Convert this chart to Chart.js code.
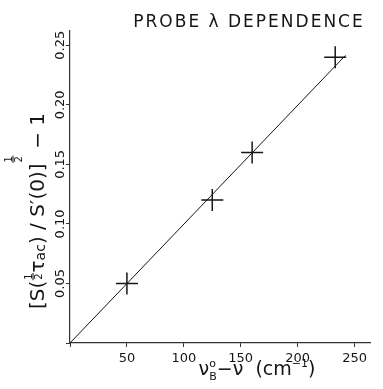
<!DOCTYPE html>
<html>
<head>
<meta charset="utf-8">
<script src="https://cdn.jsdelivr.net/npm/chart.js@4"></script>
<style>
  html, body { margin: 0; padding: 0; background: #fff; }
  #wrap { width: 383px; height: 389px; position: relative; }
</style>
</head>
<body>
<div id="wrap"><canvas id="myChart"></canvas></div>
<script>
// measured points: x = nu_B0 - nu (cm-1), y = [S(tau/2)/S'(0)]^1/2 - 1
const shiftValues = [50, 125, 160, 233];
const ratioValues = [0.050, 0.120, 0.160, 0.240];
// straight line through the origin
const fitX = [0, 242];
const fitY = [0, 0.2415];
// tick labels
const xTicks = [50, 100, 150, 200, 250];
const yTicks = [0.05, 0.10, 0.15, 0.20, 0.25];
const titleText = 'PROBE λ DEPENDENCE';

const FONT = "'DejaVu Sans', sans-serif";
const INK = '#151515';
const W = 'normal';

function layoutRich(ctx, pieces) {
  let x = 0, prevStart = 0, prevW = 0;
  for (const p of pieces) {
    ctx.font = `${W} ${p.size}px ${FONT}`;
    const w = p.frac ? ctx.measureText('2').width + 2 : ctx.measureText(p.t).width;
    if (p.back) {
      p.x = prevStart;
      prevW = Math.max(prevW, w);
      x = prevStart + prevW;
    } else {
      p.x = x; prevStart = x; prevW = w; x += w;
    }
    p.w = w;
  }
  return x;
}

function drawRich(ctx, pieces, startX, baseY) {
  ctx.textBaseline = 'alphabetic';
  for (const p of pieces) {
    ctx.font = `${W} ${p.size}px ${FONT}`;
    const x = startX + p.x;
    const y = baseY + (p.dy || 0);
    if (p.frac) {
      ctx.textAlign = 'center';
      const mid = x + p.w / 2;
      ctx.fillText('1', mid, y - 1.5);
      ctx.fillRect(x + 0.5, y - 0.5, p.w - 1, 1);
      ctx.fillText('2', mid, y + 1.5 + p.size * 0.73);
    } else {
      ctx.textAlign = 'left';
      ctx.fillText(p.t, x, y);
    }
  }
}

const yLabel = [
  {t: '[', size: 20}, {t: 'S', size: 20}, {t: '(', size: 20},
  {frac: true, size: 10, dy: -11},
  {t: 'τ', size: 20}, {t: 'ac', size: 14, dy: 1}, {t: ')', size: 20},
  {t: ' / ', size: 20}, {t: 'S', size: 20}, {t: '′', size: 20}, {t: '(0)]', size: 20},
  {frac: true, size: 10, dy: -31},
  {t: ' − 1', size: 20}
];
const xLabel = [
  {t: 'ν', size: 19}, {t: 'B', size: 11, dy: 5}, {t: 'o', size: 11, dy: -8, back: true},
  {t: '−', size: 19}, {t: 'ν', size: 19}, {t: '  (cm', size: 19},
  {t: '−1', size: 11, dy: -8}, {t: ')', size: 19}
];

const textPlugin = {
  id: 'labels',
  afterDraw(chart) {
    const ctx = chart.ctx;
    ctx.save();
    ctx.fillStyle = INK;
    // title
    ctx.font = `${W} 17px ${FONT}`;
    ctx.letterSpacing = '2px';
    ctx.textAlign = 'center';
    ctx.textBaseline = 'alphabetic';
    ctx.fillText(titleText, 249, 27);
    ctx.letterSpacing = '0px';
    // x axis title
    const wx = layoutRich(ctx, xLabel);
    drawRich(ctx, xLabel, 257 - wx / 2, 375);
    // y axis title
    const wy = layoutRich(ctx, yLabel);
    ctx.translate(44, 211);
    ctx.rotate(-Math.PI / 2);
    drawRich(ctx, yLabel, -wy / 2, 0);
    ctx.restore();
  }
};

const ctx = document.getElementById('myChart');

new Chart(ctx, {
  type: 'scatter',
  data: {
    datasets: [
      {
        label: 'fit',
        data: fitX.map((x, i) => ({x: x, y: fitY[i]})),
        showLine: true,
        borderColor: INK,
        borderWidth: 1,
        pointRadius: 0
      },
      {
        label: 'points',
        data: shiftValues.map((x, i) => ({x: x, y: ratioValues[i]})),
        pointStyle: 'cross',
        pointRadius: 11,
        borderColor: INK,
        borderWidth: 1.5
      }
    ]
  },
  options: {
    responsive: true,
    maintainAspectRatio: false,
    animation: false,
    layout: { padding: { top: 31, left: 0, right: 0, bottom: 0 } },
    plugins: { legend: { display: false }, tooltip: { enabled: false } },
    scales: {
      x: {
        type: 'linear',
        min: 0,
        max: 264,
        border: { color: '#333', width: 1.2 },
        grid: { drawOnChartArea: false, tickLength: 4, color: '#333' },
        ticks: {
          stepSize: 50,
          includeBounds: false,
          padding: 4,
          color: INK,
          font: { family: FONT, size: 13 },
          callback: v => xTicks.includes(v) ? String(v) : ''
        },
        afterFit: s => { s.height = 46; }
      },
      y: {
        type: 'linear',
        min: 0,
        max: 0.262,
        border: { color: '#333', width: 1.2 },
        grid: { drawOnChartArea: false, tickLength: 4, color: '#333' },
        ticks: {
          stepSize: 0.05,
          includeBounds: false,
          minRotation: 90,
          maxRotation: 90,
          crossAlign: 'center',
          padding: -9,
          color: INK,
          font: { family: FONT, size: 13 },
          callback: v => {
            const t = yTicks.find(t => Math.abs(t - v) < 1e-6);
            return t === undefined ? '' : t.toFixed(2);
          }
        },
        afterFit: s => { s.width = 70; }
      }
    }
  },
  plugins: [textPlugin]
});
</script>
</body>
</html>
